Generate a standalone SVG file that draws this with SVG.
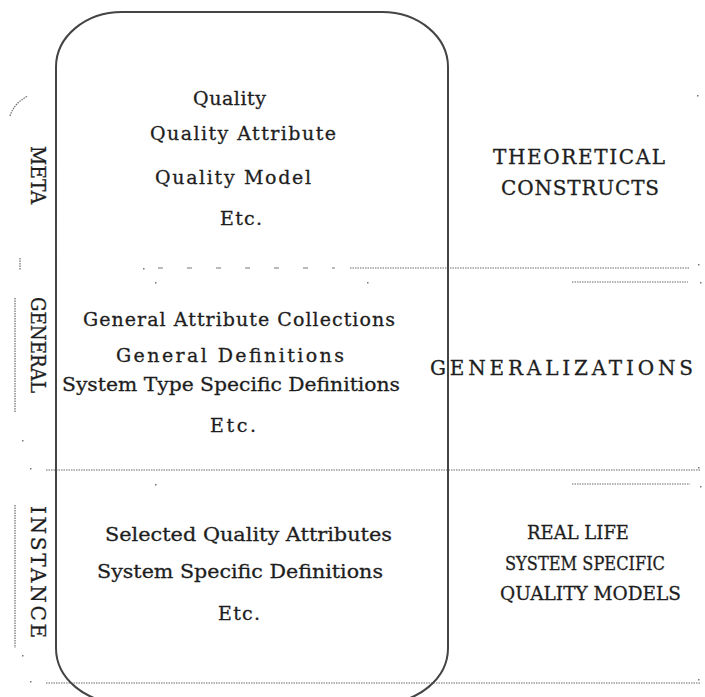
<svg xmlns="http://www.w3.org/2000/svg" width="705" height="697" viewBox="0 0 705 697">
<style>
.t{font-family:"DejaVu Serif","Liberation Serif",serif;fill:#1e1e1e;stroke:#1e1e1e;stroke-width:0.3}
.lc{font-size:19px}
.uc{font-size:20px}
.ic{font-size:19px}
.rot{font-size:20px}
.dot{fill:none;stroke:#6a6a6a;stroke-width:1.2;stroke-dasharray:1.5 1}
.sp{fill:none;stroke:#777;stroke-width:1.2;stroke-dasharray:5 24}
.speck{fill:#777}
</style>
<rect width="705" height="697" fill="#fff"/>
<g id="dividers">
<path class="sp" d="M158 268 H335"/>
<path class="dot" d="M350 268 H690"/>
<path class="dot" d="M572 282 H688"/>
<path class="dot" d="M46 470 H700"/>
<path class="dot" d="M572 484 H690"/>
<path class="dot" d="M46 683 H700"/>
<path class="dot" d="M15 298 V412"/>
<path class="dot" d="M15 505 V648"/>
<path class="dot" d="M10 116 Q14 103 28 96"/>
<path class="dot" d="M20 258 V270"/>
</g>
<g id="specks">
<rect class="speck" x="143" y="268" width="1.5" height="1.5"/>
<rect class="speck" x="155" y="282" width="1.5" height="1.5"/>
<rect class="speck" x="367" y="282" width="1.5" height="1.5"/>
<rect class="speck" x="155" y="484" width="1.5" height="1.5"/>
<rect class="speck" x="697" y="95" width="1.5" height="1.5"/>
<rect class="speck" x="698" y="264" width="1.5" height="1.5"/>
<rect class="speck" x="700" y="282" width="1.5" height="1.5"/>
<rect class="speck" x="698" y="467" width="1.5" height="1.5"/>
<rect class="speck" x="700" y="486" width="1.5" height="1.5"/>
<rect class="speck" x="698" y="679" width="1.5" height="1.5"/>
<rect class="speck" x="22" y="440" width="1.5" height="1.5"/>
<rect class="speck" x="30" y="468" width="1.5" height="1.5"/>
<rect class="speck" x="22" y="655" width="1.5" height="1.5"/>
<rect class="speck" x="30" y="681" width="1.5" height="1.5"/>
</g>
<g id="scope">
<path d="M56 67 A66 55 0 0 1 122 12 H382 A66 55 0 0 1 448 67 V648 A66 55 0 0 1 382 703 H122 A66 55 0 0 1 56 648 Z" fill="none" stroke="#444" stroke-width="2"/>
</g>
<g id="meta">
<text class="t rot" transform="translate(31,175) rotate(90)" text-anchor="middle" textLength="58" lengthAdjust="spacingAndGlyphs">META</text>
<text class="t lc" x="193" y="105" textLength="73" lengthAdjust="spacing">Quality</text>
<text class="t lc" x="150" y="140" textLength="186" lengthAdjust="spacing">Quality Attribute</text>
<text class="t lc" x="155" y="184" textLength="156" lengthAdjust="spacing">Quality Model</text>
<text class="t lc" x="220" y="225" textLength="42" lengthAdjust="spacing">Etc.</text>
<text class="t uc" x="493" y="164" textLength="172" lengthAdjust="spacing">THEORETICAL</text>
<text class="t uc" x="501" y="195" textLength="158" lengthAdjust="spacing">CONSTRUCTS</text>
</g>
<g id="general">
<text class="t rot" transform="translate(31,345) rotate(90)" text-anchor="middle" textLength="96" lengthAdjust="spacingAndGlyphs">GENERAL</text>
<text class="t lc" x="83" y="326" textLength="312" lengthAdjust="spacing">General Attribute Collections</text>
<text class="t lc" x="116" y="362" textLength="228" lengthAdjust="spacing">General Definitions</text>
<text class="t lc" x="62" y="391" textLength="338" lengthAdjust="spacingAndGlyphs">System Type Specific Definitions</text>
<text class="t lc" x="210" y="432" textLength="46" lengthAdjust="spacing">Etc.</text>
<text class="t uc" x="430" y="375" textLength="263" lengthAdjust="spacing">GENERALIZATIONS</text>
</g>
<g id="instance">
<text class="t rot" transform="translate(31,572) rotate(90)" text-anchor="middle" textLength="132" lengthAdjust="spacing">INSTANCE</text>
<text class="t lc" x="105" y="541" textLength="287" lengthAdjust="spacingAndGlyphs">Selected Quality Attributes</text>
<text class="t lc" x="97" y="578" textLength="286" lengthAdjust="spacingAndGlyphs">System Specific Definitions</text>
<text class="t lc" x="218" y="620" textLength="42" lengthAdjust="spacing">Etc.</text>
<text class="t ic" x="527" y="539" textLength="102" lengthAdjust="spacingAndGlyphs">REAL LIFE</text>
<text class="t ic" x="505" y="570" textLength="160" lengthAdjust="spacingAndGlyphs">SYSTEM SPECIFIC</text>
<text class="t ic" x="500" y="600" textLength="181" lengthAdjust="spacingAndGlyphs">QUALITY MODELS</text>
</g>
</svg>
